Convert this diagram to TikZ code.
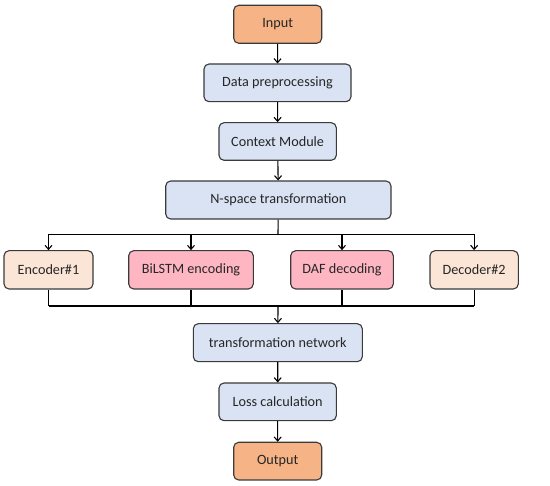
\documentclass[tikz,border=0pt]{standalone}
\usepackage{fontspec}
\setmainfont{Carlito}
\usetikzlibrary{arrows.meta}
\definecolor{cOrange}{HTML}{F6B386}
\definecolor{cBlue}{HTML}{DAE3F3}
\definecolor{cPeach}{HTML}{FBE5D6}
\definecolor{cPink}{HTML}{FFB6C3}
\definecolor{cLine}{HTML}{3A3A3A}
\tikzset{
  box/.style={draw=cLine, line width=1.1pt, rounded corners=5pt, inner sep=0pt,
    font=\fontsize{14.2}{16}\selectfont, text=black!85},
  conn/.style={line width=1.1pt, draw=black},
  arr/.style={conn, -{Straight Barb[length=4pt,width=7pt,line width=1.1pt]}},
}
\newcommand{\bx}[7]{% name, x1,y1,x2,y2, fill, text
  \node[box, fill=#6, minimum width={(#4-#2)*1pt}, minimum height={(#5-#3)*1pt}]
    (#1) at ({(#2+#4)/2*1pt},{-(#3+#5)/2*1pt}) {#7};}
\begin{document}
\begin{tikzpicture}[x=1pt,y=-1pt]
\useasboundingbox (0,0) rectangle (550,486);
\bx{inp}{233.7}{5.3}{321.7}{43.3}{cOrange}{Input}
\bx{dp}{204}{64}{351}{101.7}{cBlue}{Data preprocessing}
\bx{cm}{219}{122.7}{336.3}{160.3}{cBlue}{Context Module}
\bx{ns}{165.7}{181}{391}{219}{cBlue}{N-space transformation}
\bx{e1}{4}{250.7}{93}{289}{cPeach}{Encoder\#1}
\bx{bl}{128.7}{250.7}{253.3}{289}{cPink}{BiLSTM encoding}
\bx{daf}{290.7}{250.7}{393.3}{289}{cPink}{DAF decoding}
\bx{d2}{430}{250.7}{518.3}{289}{cPeach}{Decoder\#2}
\bx{tn}{193.3}{323.7}{362.3}{361.7}{cBlue}{transformation network}
\bx{lc}{219}{383}{336.3}{420.7}{cBlue}{Loss calculation}
\bx{out}{233.7}{442.3}{321.7}{480}{cOrange}{Output}
\coordinate (split) at (278,234.3);
\coordinate (merge) at (278,306);
\draw[arr] (inp) -- (dp);
\draw[arr] (dp) -- (cm);
\draw[arr] (cm) -- (ns);
\draw[conn] (ns) -- (split);
\draw[conn] (e1.north |- split) -- (d2.north |- split);
\foreach \n in {e1,bl,daf,d2}{\draw[arr] (\n.north |- split) -- (\n.north);}
\foreach \n in {e1,bl,daf,d2}{\draw[conn] (\n.south) -- (\n.south |- merge);}
\draw[conn] (e1.south |- merge) -- (d2.south |- merge);
\draw[arr] (merge) -- (tn);
\draw[arr] (tn) -- (lc);
\draw[arr] (lc) -- (out);
\end{tikzpicture}
\end{document}
